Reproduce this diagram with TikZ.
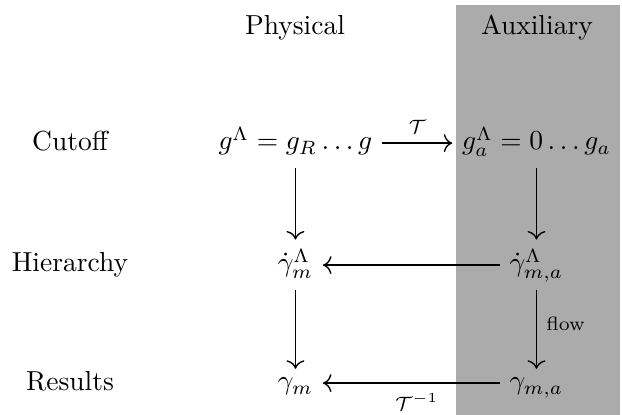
\documentclass[tikz,border=0pt]{standalone}
\usepackage{amsmath}
\usetikzlibrary{arrows.meta}
\definecolor{auxgray}{RGB}{171,171,171}
\begin{document}
\begin{tikzpicture}[x=0.3636pt,y=-0.3636pt,
  lbl/.style={anchor=base, inner sep=0pt},
  mth/.style={anchor=base, inner ysep=0pt, inner xsep=3.4pt, text height=7.5pt, text depth=2.5pt},
  arr/.style={line width=0.5pt, -{Computer Modern Rightarrow[scale=1.15]}},
  elabel/.style={font=\scriptsize}]
\useasboundingbox (0,0) rectangle (622,415);
\fill[auxgray] (456,5) rectangle (620,415);
% headings
\node[lbl] (phys) at (295,35) {Physical};
\node[lbl] (aux) at (537,35) {Auxiliary};
\node[lbl] (cut) at (70,151) {Cutoff};
\node[lbl] (hier) at (70,272) {Hierarchy};
\node[lbl] (res) at (70,391) {Results};
% math nodes
\node[mth] (g1) at (295.5,150) {$g^\Lambda = g_R \ldots g$};
\node[mth] (g2) at (536.5,150) {$g_a^\Lambda = 0 \ldots g_a$};
\node[mth] (h1) at (295.5,272) {$\dot\gamma_m^\Lambda$};
\node[mth] (h2) at (536.5,272) {$\dot\gamma_{m,a}^\Lambda$};
\node[mth] (r1) at (295.5,390) {$\gamma_m$};
\node[mth] (r2) at (536.5,390) {$\gamma_{m,a}$};
% connectors
\draw[arr] (g1) -- node[above] {$\scriptstyle\mathcal{T}$} (g2);
\draw[arr, shorten <=3.7pt, shorten >=4.1pt] (g1) -- (h1);
\draw[arr, shorten <=3.7pt, shorten >=4.1pt] (g2) -- (h2);
\draw[arr] (h2) -- (h1);
\draw[arr, shorten <=3.7pt] (h1) -- (r1);
\draw[arr, shorten <=3.7pt] (h2) -- node[right, elabel] {flow} (r2);
\draw[arr] (r2) -- node[below, pos=0.47] {$\scriptstyle\mathcal{T}^{-1}$} (r1);
\end{tikzpicture}
\end{document}
